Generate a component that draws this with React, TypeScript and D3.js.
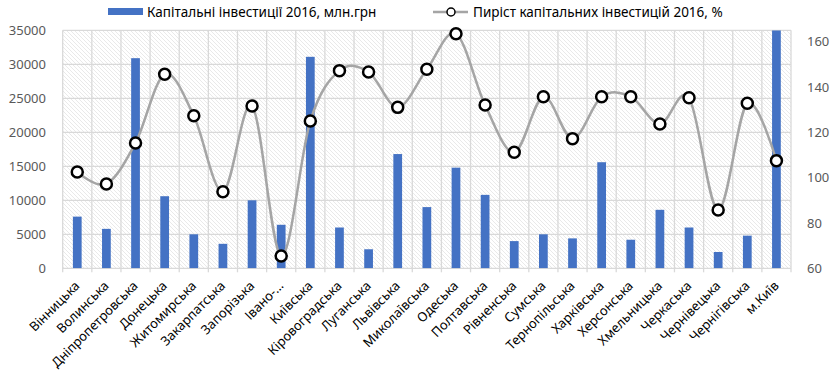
import React from "react";
import * as d3 from "d3";

const categories = ["Вінницька","Волинська","Дніпропетровська","Донецька","Житомирська","Закарпатська","Запорізька","Івано-…","Київська","Кіровоградська","Луганська","Львівська","Миколаївська","Одеська","Полтавська","Рівненська","Сумська","Тернопільська","Харківська","Херсонська","Хмельницька","Черкаська","Чернівецька","Чернігівська","м.Київ"];
const investments = [7600,5800,30900,10600,5000,3600,10000,6400,31100,6000,2800,16800,9000,14800,10800,4000,5000,4400,15600,4200,8600,6000,2400,4800,35000];
const growth = [102.5,97.2,115.3,145.6,127.3,93.8,131.6,65.4,125,147.2,146.6,131,147.8,163.5,132,111.2,135.7,117.2,135.7,135.7,123.7,135.2,85.7,132.8,107.5];
const leftTicks = [0,5000,10000,15000,20000,25000,30000,35000];
const rightTicks = [60,80,100,120,140,160];
const barLabel = "Капітальні інвестиції 2016, млн.грн";
const lineLabel = "Пиріст капітальних інвестицій 2016, %";

export default function App() {
  const W = 837, H = 384;
  const left = 62.7, right = 791, top = 30.3, bottom = 268.3;
  const x = d3.scaleBand<string>().domain(categories).range([left, right]).padding(0);
  const yL = d3.scaleLinear().domain([0, 35000]).range([bottom, top]);
  const yR = d3.scaleLinear().domain([60, 165]).range([bottom, top]);
  const bw = x.bandwidth() * 0.3;
  const line = d3.line<number>()
    .x((_, i) => x(categories[i])! + x.bandwidth() / 2)
    .y((d) => yR(d))
    .curve(d3.curveCardinal.tension(0));
  const font = "'Noto Sans', sans-serif";
  const grid = "#d9d9d9";
  return (
    <svg width={W} height={H} style={{ position: "absolute", left: 0, top: 0, background: "#fff" }} fontFamily={font}>
      <defs>
        <pattern id="hatch" width="4" height="4" patternUnits="userSpaceOnUse">
          <rect width="4" height="4" fill="#fff" />
          <path d="M-1,-1 L5,5 M-1,3 L1,5 M3,-1 L5,1" stroke="#e0e0e0" strokeWidth="0.7" />
        </pattern>
        <clipPath id="plot"><rect x={left} y={top} width={right - left} height={bottom - top} /></clipPath>
      </defs>
      <rect x={left} y={top} width={right - left} height={bottom - top} fill="url(#hatch)" />
      {leftTicks.map((t) => (
        <line key={"h" + t} x1={left} x2={right} y1={yL(t)} y2={yL(t)} stroke={grid} strokeWidth={1.3} />
      ))}
      {categories.map((c, i) => (
        <line key={"v" + i} x1={x(c)!} x2={x(c)!} y1={top} y2={bottom + 4} stroke={grid} strokeWidth={1.3} />
      ))}
      <line x1={right} x2={right} y1={top} y2={bottom + 4} stroke={grid} strokeWidth={1.3} />
      <g clipPath="url(#plot)">
        {investments.map((v, i) => (
          <rect key={"b" + i} x={x(categories[i])! + (x.bandwidth() - bw) / 2} y={yL(v)} width={bw} height={bottom - yL(v)} fill="#4472C4" />
        ))}
      </g>
      <path d={line(growth) || ""} fill="none" stroke="#a5a5a5" strokeWidth={2.5} />
      {growth.map((v, i) => (
        <circle key={"m" + i} cx={x(categories[i])! + x.bandwidth() / 2} cy={yR(v)} r={5.5} fill="#fff" stroke="#000" strokeWidth={2.5} />
      ))}
      {leftTicks.map((t) => (
        <text key={"lt" + t} x={46} y={yL(t)} dy="0.35em" textAnchor="end" fontSize={13} fill="#595959">{t}</text>
      ))}
      {rightTicks.map((t) => (
        <text key={"rt" + t} x={807} y={yR(t)} dy="0.35em" textAnchor="start" fontSize={13} fill="#595959">{t}</text>
      ))}
      {categories.map((c, i) => {
        const cx = x(c)! + x.bandwidth() / 2;
        const cy = bottom + 15;
        return (
          <text key={"xl" + i} x={cx} y={cy} transform={`rotate(-45 ${cx} ${cy})`} textAnchor="end" dy="0.35em" fontSize={13} fill="#000">{c}</text>
        );
      })}
      <rect x={108} y={8} width={35} height={7} fill="#4472C4" />
      <text x={147} y={12} dy="0.35em" fontSize={13.5} fill="#000">{barLabel}</text>
      <line x1={433} x2={468} y1={12} y2={12} stroke="#a5a5a5" strokeWidth={2.5} />
      <circle cx={451} cy={12} r={4} fill="#fff" stroke="#000" strokeWidth={1.5} />
      <text x={473} y={12} dy="0.35em" fontSize={13.5} fill="#000">{lineLabel}</text>
    </svg>
  );
}
